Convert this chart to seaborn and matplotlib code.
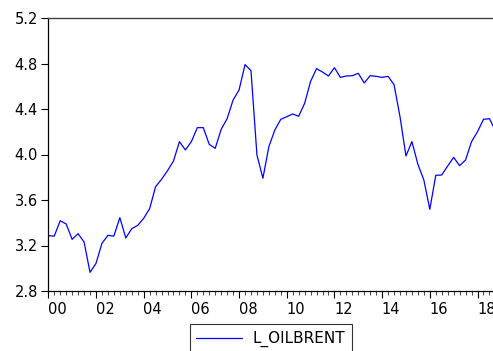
import matplotlib
matplotlib.use("Agg")
import matplotlib.pyplot as plt
from matplotlib.transforms import ScaledTranslation
from matplotlib.ticker import MultipleLocator
import numpy as np
import pandas as pd
import seaborn as sns

# quarterly log Brent oil price, 2000Q1 .. 2018Q4
series_name = "L_OILBRENT"
start_year = 2000
l_oilbrent = [
    3.286, 3.283, 3.418, 3.389, 3.254, 3.304, 3.231, 2.964,
    3.043, 3.219, 3.289, 3.283, 3.445, 3.266, 3.348, 3.377,
    3.439, 3.524, 3.717, 3.782, 3.858, 3.943, 4.113, 4.040,
    4.113, 4.236, 4.236, 4.089, 4.054, 4.221, 4.315, 4.479,
    4.567, 4.790, 4.737, 3.996, 3.791, 4.069, 4.215, 4.309,
    4.332, 4.356, 4.336, 4.450, 4.643, 4.755, 4.725, 4.690,
    4.763, 4.678, 4.690, 4.693, 4.714, 4.629, 4.693, 4.687,
    4.678, 4.687, 4.614, 4.332, 3.987, 4.113, 3.914, 3.776,
    3.518, 3.817, 3.820, 3.899, 3.975, 3.902, 3.952, 4.113,
    4.200, 4.309, 4.315, 4.210,
]
year_ticks = list(range(2000, 2019, 2))
year_labels = [f"{y % 100:02d}" for y in year_ticks]
y_ticks = [2.8, 3.2, 3.6, 4.0, 4.4, 4.8, 5.2]

df = pd.DataFrame({
    "date": start_year + np.arange(len(l_oilbrent)) / 4,
    series_name: l_oilbrent,
})

sns.set_style("ticks")
plt.rcParams["font.family"] = ["DejaVu Sans"]

fig = plt.figure(figsize=(4.93, 3.51), dpi=100)
ax = fig.add_axes([48.3 / 493, 60 / 351, (493 - 48.3) / 493, 273 / 351])

sns.lineplot(data=df, x="date", y=series_name, ax=ax, color="#0000ff",
             linewidth=0.9, label=series_name)

ax.set_xlim(2000, 2018.65)
ax.set_ylim(2.8, 5.2)
ax.set_yticks(y_ticks)
ax.set_yticklabels([f"{v:.1f}" for v in y_ticks])
ax.set_xticks(year_ticks)
ax.set_xticklabels(year_labels)
ax.xaxis.set_minor_locator(MultipleLocator(0.25))
ax.set_xlabel("")
ax.set_ylabel("")

ax.tick_params(axis="y", direction="out", length=5, width=0.8, labelsize=10.5,
               pad=2.5, colors="black")
ax.tick_params(axis="x", which="major", direction="out", length=5, width=0.8,
               labelsize=10.5, pad=3, colors="black")
ax.tick_params(axis="x", which="minor", direction="out", length=2.8, width=0.6)

# EViews puts the year label a bit right of its tick
shift = ScaledTranslation(0.09, 0, fig.dpi_scale_trans)
for lab in ax.get_xticklabels():
    lab.set_transform(lab.get_transform() + shift)

for side in ["left", "bottom"]:
    ax.spines[side].set_color("black")
    ax.spines[side].set_linewidth(0.9)
ax.spines["top"].set_visible(True)
ax.spines["top"].set_color("#444444")
ax.spines["top"].set_linewidth(1.0)
ax.spines["right"].set_visible(False)

handles, labels = ax.get_legend_handles_labels()
ax.get_legend().remove()
leg = fig.legend(handles, labels, loc="upper center",
                 bbox_to_anchor=(271 / 493, 1 - 324 / 351),
                 frameon=True, fancybox=False, fontsize=11,
                 handlelength=3.0, handletextpad=0.7, borderpad=0.45,
                 borderaxespad=0, labelcolor="black")
leg.get_frame().set_edgecolor("black")
leg.get_frame().set_linewidth(0.8)

fig.savefig("out.png", dpi=100)
